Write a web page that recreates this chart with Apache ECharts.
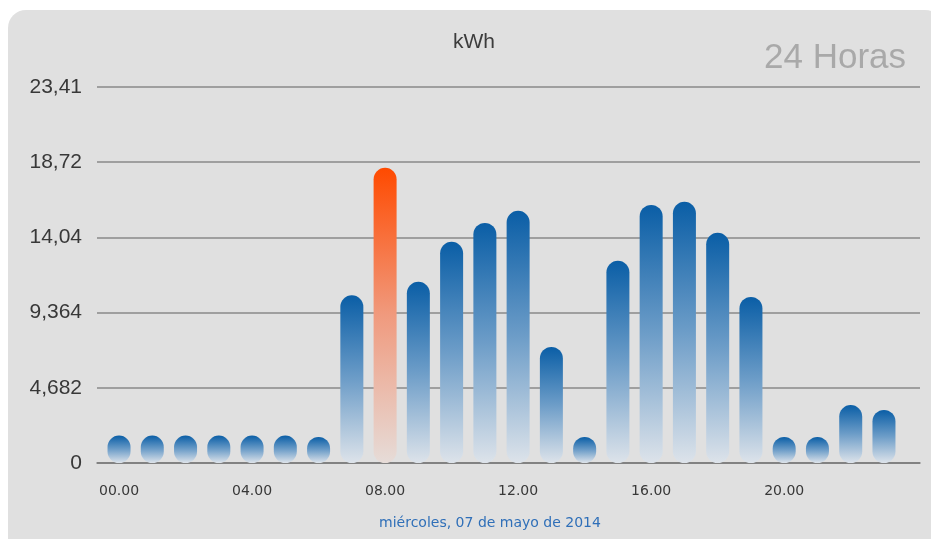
<!DOCTYPE html>
<html>
<head>
<meta charset="utf-8">
<script src="https://cdn.jsdelivr.net/npm/echarts@6/dist/echarts.min.js"></script>
<style>
  html, body { margin:0; padding:0; background:#ffffff; width:931px; height:539px; overflow:hidden; }
  #panel { position:absolute; left:8px; top:10px; width:935px; height:545px; background:#e0e0e0; border-radius:18px 18px 0 0; }
  #chart { position:absolute; left:0; top:0; width:931px; height:539px; }
</style>
</head>
<body>
<div id="panel"></div>
<div id="chart"></div>
<script>
// ---- data ----
const hours = ['00.00','01.00','02.00','03.00','04.00','05.00','06.00','07.00','08.00','09.00','10.00','11.00',
               '12.00','13.00','14.00','15.00','16.00','17.00','18.00','19.00','20.00','21.00','22.00','23.00'];
const kwh = [1.71, 1.71, 1.71, 1.71, 1.71, 1.71, 1.62, 10.44, 18.38, 11.28, 13.77, 14.95,
             15.70, 7.23, 1.62, 12.59, 16.07, 16.26, 14.33, 10.34, 1.62, 1.62, 3.61, 3.30];
const peakIndex = 8;
const yMax = 23.41;
const yStep = 4.682;
const yTickLabels = ['0', '4,682', '9,364', '14,04', '18,72', '23,41'];
const titleText = 'kWh';
const periodText = '24 Horas';
const dateText = 'miércoles, 07 de mayo de 2014';

// ---- styles ----
const blueGrad = new echarts.graphic.LinearGradient(0, 0, 0, 1, [
  { offset: 0, color: '#0a5ea6' },
  { offset: 0.5, color: '#6d9dc8' },
  { offset: 1, color: '#dde3ea' }
]);
const orangeGrad = new echarts.graphic.LinearGradient(0, 0, 0, 1, [
  { offset: 0, color: '#ff4a00' },
  { offset: 0.5, color: '#f09a7e' },
  { offset: 1, color: '#e6dcd8' }
]);

const seriesData = kwh.map((v, i) => ({
  value: v,
  itemStyle: { color: i === peakIndex ? orangeGrad : blueGrad }
}));

const chart = echarts.init(document.getElementById('chart'), null, { renderer: 'canvas' });
const TOP = 87, BOTTOM = 76;

chart.setOption({
  backgroundColor: 'transparent',
  animation: false,
  grid: [
    { left: 97, right: 11, top: TOP, bottom: BOTTOM, containLabel: false },
    { left: 102.4, right: 30.4, top: TOP, bottom: BOTTOM, containLabel: false }
  ],
  xAxis: [
    { gridIndex: 0, type: 'value', min: 0, max: 1,
      axisLine: { show: true, onZero: false, lineStyle: { color: '#7a7a7a', width: 1.5 } },
      axisTick: { show: false }, axisLabel: { show: false }, splitLine: { show: false } },
    { gridIndex: 1, type: 'category', data: hours,
      axisLine: { show: false }, axisTick: { show: false }, splitLine: { show: false },
      axisLabel: { interval: 3, margin: 21, fontSize: 14, color: '#383838', fontFamily: 'DejaVu Sans' } }
  ],
  yAxis: [
    { gridIndex: 0, type: 'value', min: 0, max: yMax, interval: yStep,
      axisLine: { show: false }, axisTick: { show: false },
      splitLine: { show: true, lineStyle: { color: '#8a8a8a', width: 1.5 } },
      axisLabel: { margin: 15, fontSize: 21, color: '#383838', fontFamily: 'Liberation Sans',
        formatter: (v) => yTickLabels[Math.round(v / yStep)] } },
    { gridIndex: 1, type: 'value', min: 0, max: yMax, show: false, splitLine: { show: false } }
  ],
  series: [{
    type: 'bar',
    xAxisIndex: 1, yAxisIndex: 1,
    data: seriesData,
    barWidth: 23,
    itemStyle: { borderRadius: 11.5 },
    z: 3
  }],
  graphic: [
    { type: 'text', x: 474, y: 42, z: 10,
      style: { text: titleText, fill: '#3d3d3d', font: '21px "Liberation Sans", Arial, sans-serif',
               textAlign: 'center', textVerticalAlign: 'middle' } },
    { type: 'text', x: 906, y: 58, z: 10,
      style: { text: periodText, fill: '#a9a9a9', font: '35px "Liberation Sans", Arial, sans-serif',
               textAlign: 'right', textVerticalAlign: 'middle' } },
    { type: 'text', x: 490, y: 523, z: 10,
      style: { text: dateText, fill: '#2f6fb8', font: '14px "DejaVu Sans", Verdana, sans-serif',
               textAlign: 'center', textVerticalAlign: 'middle' } }
  ]
});
</script>
</body>
</html>
